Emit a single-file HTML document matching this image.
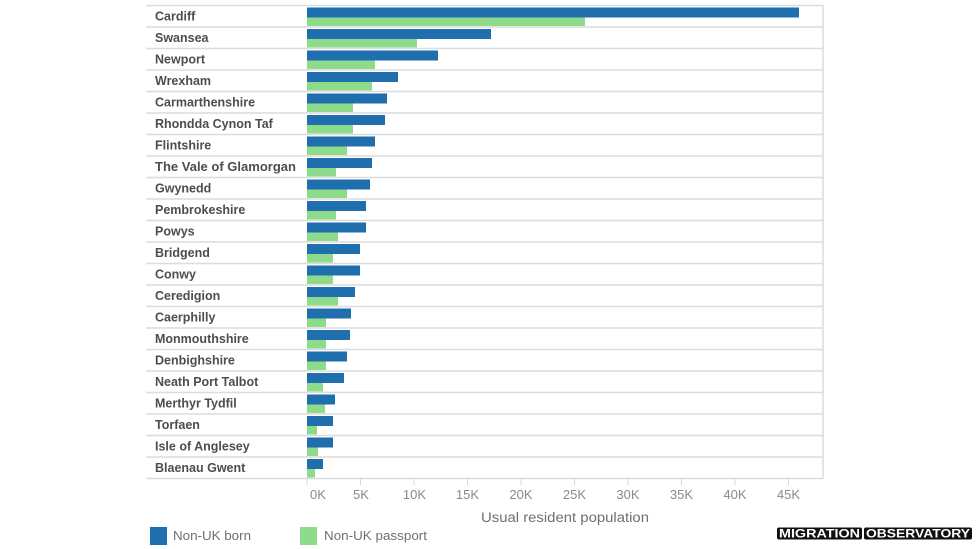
<!DOCTYPE html>
<html>
<head>
<meta charset="utf-8">
<style>
  html,body{margin:0;padding:0;background:#fff;}
  svg{display:block;}
  .lab{font-family:"Liberation Sans",sans-serif;font-weight:bold;font-size:12.5px;fill:#4d4d4d;}
  .tick{font-family:"Liberation Sans",sans-serif;font-size:13px;fill:#8a8a8a;}
  .ax{font-family:"Liberation Sans",sans-serif;font-size:13.5px;fill:#707070;}
  .leg{font-family:"Liberation Sans",sans-serif;font-size:12.5px;fill:#707070;}
  .logo{font-family:"Liberation Sans",sans-serif;font-weight:bold;font-size:11.5px;fill:#fff;}
</style>
</head>
<body>
<svg width="976" height="549" viewBox="0 0 976 549" xmlns="http://www.w3.org/2000/svg">
  <rect width="976" height="549" fill="#fff"/>
  <!-- gridlines -->
  <g stroke="#dcdcdc" stroke-width="1.5">
    <line x1="146" y1="5.5" x2="823" y2="5.5"/>
    <line x1="146" y1="27" x2="823" y2="27"/>
    <line x1="146" y1="48.5" x2="823" y2="48.5"/>
    <line x1="146" y1="70" x2="823" y2="70"/>
    <line x1="146" y1="91.5" x2="823" y2="91.5"/>
    <line x1="146" y1="113" x2="823" y2="113"/>
    <line x1="146" y1="134.5" x2="823" y2="134.5"/>
    <line x1="146" y1="156" x2="823" y2="156"/>
    <line x1="146" y1="177.5" x2="823" y2="177.5"/>
    <line x1="146" y1="199" x2="823" y2="199"/>
    <line x1="146" y1="220.5" x2="823" y2="220.5"/>
    <line x1="146" y1="242" x2="823" y2="242"/>
    <line x1="146" y1="263.5" x2="823" y2="263.5"/>
    <line x1="146" y1="285" x2="823" y2="285"/>
    <line x1="146" y1="306.5" x2="823" y2="306.5"/>
    <line x1="146" y1="328" x2="823" y2="328"/>
    <line x1="146" y1="349.5" x2="823" y2="349.5"/>
    <line x1="146" y1="371" x2="823" y2="371"/>
    <line x1="146" y1="392.5" x2="823" y2="392.5"/>
    <line x1="146" y1="414" x2="823" y2="414"/>
    <line x1="146" y1="435.5" x2="823" y2="435.5"/>
    <line x1="146" y1="457" x2="823" y2="457"/>
    <line x1="146" y1="478.5" x2="823" y2="478.5"/>
    <line x1="823" y1="5" x2="823" y2="479"/>
  </g>
  <!-- ticks -->
  <g stroke="#d6d6d6" stroke-width="1">
    <line x1="307" y1="479" x2="307" y2="485"/>
    <line x1="360.5" y1="479" x2="360.5" y2="485"/>
    <line x1="414" y1="479" x2="414" y2="485"/>
    <line x1="467.5" y1="479" x2="467.5" y2="485"/>
    <line x1="521" y1="479" x2="521" y2="485"/>
    <line x1="574.5" y1="479" x2="574.5" y2="485"/>
    <line x1="628" y1="479" x2="628" y2="485"/>
    <line x1="681.5" y1="479" x2="681.5" y2="485"/>
    <line x1="735" y1="479" x2="735" y2="485"/>
    <line x1="788.5" y1="479" x2="788.5" y2="485"/>
  </g>
  <!-- bars: blue -->
  <g fill="#1f6eae">
    <rect x="307" y="7.5" width="492" height="10"/>
    <rect x="307" y="29" width="184" height="10"/>
    <rect x="307" y="50.5" width="131" height="10"/>
    <rect x="307" y="72" width="91" height="10"/>
    <rect x="307" y="93.5" width="80" height="10"/>
    <rect x="307" y="115" width="78" height="10"/>
    <rect x="307" y="136.5" width="68" height="10"/>
    <rect x="307" y="158" width="65" height="10"/>
    <rect x="307" y="179.5" width="63" height="10"/>
    <rect x="307" y="201" width="59" height="10"/>
    <rect x="307" y="222.5" width="59" height="10"/>
    <rect x="307" y="244" width="53" height="10"/>
    <rect x="307" y="265.5" width="53" height="10"/>
    <rect x="307" y="287" width="48" height="10"/>
    <rect x="307" y="308.5" width="44" height="10"/>
    <rect x="307" y="330" width="43" height="10"/>
    <rect x="307" y="351.5" width="40" height="10"/>
    <rect x="307" y="373" width="37" height="10"/>
    <rect x="307" y="394.5" width="28" height="10"/>
    <rect x="307" y="416" width="26" height="10"/>
    <rect x="307" y="437.5" width="26" height="10"/>
    <rect x="307" y="459" width="16" height="10"/>
  </g>
  <!-- bars: green -->
  <g fill="#8edb8b">
    <rect x="307" y="17.5" width="278" height="8.5"/>
    <rect x="307" y="39" width="110" height="8.5"/>
    <rect x="307" y="60.5" width="68" height="8.5"/>
    <rect x="307" y="82" width="65" height="8.5"/>
    <rect x="307" y="103.5" width="46" height="8.5"/>
    <rect x="307" y="125" width="46" height="8.5"/>
    <rect x="307" y="146.5" width="40" height="8.5"/>
    <rect x="307" y="168" width="29" height="8.5"/>
    <rect x="307" y="189.5" width="40" height="8.5"/>
    <rect x="307" y="211" width="29" height="8.5"/>
    <rect x="307" y="232.5" width="31" height="8.5"/>
    <rect x="307" y="254" width="26" height="8.5"/>
    <rect x="307" y="275.5" width="26" height="8.5"/>
    <rect x="307" y="297" width="31" height="8.5"/>
    <rect x="307" y="318.5" width="19" height="8.5"/>
    <rect x="307" y="340" width="19" height="8.5"/>
    <rect x="307" y="361.5" width="19" height="8.5"/>
    <rect x="307" y="383" width="16" height="8.5"/>
    <rect x="307" y="404.5" width="18" height="8.5"/>
    <rect x="307" y="426" width="10" height="8.5"/>
    <rect x="307" y="447.5" width="11" height="8.5"/>
    <rect x="307" y="469" width="8" height="8.5"/>
  </g>
  <!-- labels -->
  <g class="lab">
    <text x="155" y="20.5">Cardiff</text>
    <text x="155" y="42">Swansea</text>
    <text x="155" y="63.5">Newport</text>
    <text x="155" y="85">Wrexham</text>
    <text x="155" y="106.5">Carmarthenshire</text>
    <text x="155" y="128">Rhondda Cynon Taf</text>
    <text x="155" y="149.5">Flintshire</text>
    <text x="155" y="171" textLength="141" lengthAdjust="spacingAndGlyphs">The Vale of Glamorgan</text>
    <text x="155" y="192.5">Gwynedd</text>
    <text x="155" y="214">Pembrokeshire</text>
    <text x="155" y="235.5">Powys</text>
    <text x="155" y="257">Bridgend</text>
    <text x="155" y="278.5">Conwy</text>
    <text x="155" y="300">Ceredigion</text>
    <text x="155" y="321.5">Caerphilly</text>
    <text x="155" y="343">Monmouthshire</text>
    <text x="155" y="364.5">Denbighshire</text>
    <text x="155" y="386">Neath Port Talbot</text>
    <text x="155" y="407.5">Merthyr Tydfil</text>
    <text x="155" y="429">Torfaen</text>
    <text x="155" y="450.5">Isle of Anglesey</text>
    <text x="155" y="472">Blaenau Gwent</text>
  </g>
  <!-- tick labels -->
  <g class="tick" text-anchor="middle">
    <text x="318" y="499">0K</text>
    <text x="361" y="499">5K</text>
    <text x="414.5" y="499">10K</text>
    <text x="467.5" y="499">15K</text>
    <text x="521" y="499">20K</text>
    <text x="574.5" y="499">25K</text>
    <text x="628" y="499">30K</text>
    <text x="681.5" y="499">35K</text>
    <text x="735" y="499">40K</text>
    <text x="788.5" y="499">45K</text>
  </g>
  <text class="ax" x="481" y="522" textLength="168" lengthAdjust="spacingAndGlyphs">Usual resident population</text>
  <!-- legend -->
  <rect x="150" y="527" width="17" height="18" fill="#1f6eae"/>
  <text class="leg" x="173" y="540" textLength="78" lengthAdjust="spacingAndGlyphs">Non-UK born</text>
  <rect x="300" y="527" width="17" height="18" fill="#8edb8b"/>
  <text class="leg" x="324" y="540" textLength="103" lengthAdjust="spacingAndGlyphs">Non-UK passport</text>
  <!-- logo -->
  <rect x="777" y="527.5" width="85" height="12" rx="2" fill="#111"/>
  <rect x="864" y="527.5" width="108" height="12" rx="2" fill="#111"/>
  <text class="logo" x="779" y="537.5" textLength="81" lengthAdjust="spacingAndGlyphs">MIGRATION</text>
  <text class="logo" x="866" y="537.5" textLength="104" lengthAdjust="spacingAndGlyphs">OBSERVATORY</text>
</svg>
</body>
</html>
